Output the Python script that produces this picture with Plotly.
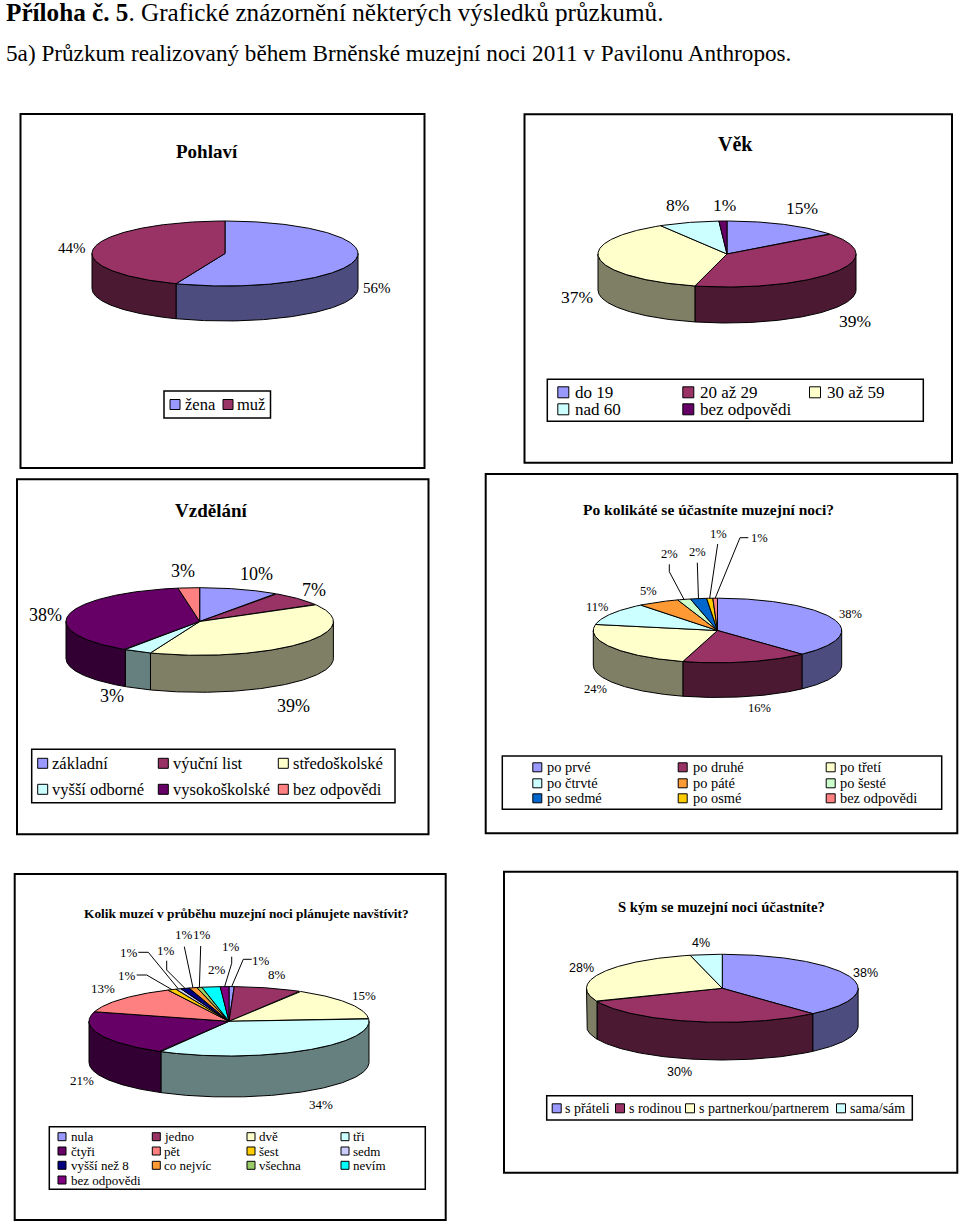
import numpy as np
import plotly.graph_objects as go

SERIF = "Liberation Serif"
SANS = "Liberation Sans"

# ---------- data ----------
POHLAVI_CATS = ["žena", "muž"]
POHLAVI_VALS = [56, 44]
VEK_CATS = ["do 19", "20 až 29", "30 až 59", "nad 60", "bez odpovědi"]
VEK_VALS = [14.6, 39.4, 37.4, 7.6, 1.0]
VZDELANI_CATS = ["základní", "výuční list", "středoškolské", "vyšší odborné", "vysokoškolské", "bez odpovědi"]
VZDELANI_VALS = [9.6, 7.0, 39.4, 3.4, 38.0, 2.6]
KOLIKATE_CATS = ["po prvé", "po druhé", "po třetí", "po čtrvté", "po páté", "po šesté", "po sedmé", "po osmé", "bez odpovědi"]
KOLIKATE_VALS = [38.1, 16.4, 23.5, 11.4, 5.4, 1.7, 2.1, 0.8, 0.6]
MUZEA_CATS = ["nula", "jedno", "dvě", "tři", "čtyři", "pět", "šest", "sedm", "vyšší než 8", "co nejvíc", "všechna", "nevím", "bez odpovědi"]
MUZEA_VALS = [0.6, 7.8, 15.4, 34.4, 21.4, 13.4, 1.0, 0.6, 1.0, 0.9, 0.6, 2.1, 1.0]
SKYM_CATS = ["s přáteli", "s rodinou", "s partnerkou/partnerem", "sama/sám"]
SKYM_VALS = [38.4, 30.3, 27.5, 3.8]

# ---------- styles ----------
C = dict(lav="#9999FF", plum="#993366", cream="#FFFFCC", ice="#CCFFFF", purple="#660066", salmon="#FF8080",
         orange="#FF9933", mint="#CCFFCC", blue="#0066CC", gold="#FFCC00", pale="#CCCCFF", navy="#000080",
         green="#99CC66", cyan="#00FFFF", violet="#800080")

PANELS = [
    dict(cats=POHLAVI_CATS, vals=POHLAVI_VALS,
         colors=[C["lav"], C["plum"]],
         box=(20.5, 114, 424.5, 468), pie=(225, 253.5, 133, 32.5, 35),
         title="Pohlaví", title_pos=(207, 151), title_size=19, title_font=SERIF,
         lab_size=15, lab_font=SERIF, lab_pos=[(377, 288), (72, 248)], leaders={},
         leg_box=(164, 391, 270.5, 418), leg_size=16.5, swatch=10,
         leg_items=[(175, 404.5, 185), (228, 404.5, 237)]),
    dict(cats=VEK_CATS, vals=VEK_VALS,
         colors=[C["lav"], C["plum"], C["cream"], C["ice"], C["purple"]],
         box=(524.5, 114.3, 952, 462.7), pie=(727, 254, 129, 33, 36),
         title="Věk", title_pos=(735, 144), title_size=20, title_font=SERIF,
         lab_size=17.5, lab_font=SERIF,
         lab_pos=[(802, 208), (855, 321), (577, 297), (677, 205), (724, 205)], leaders={},
         leg_box=(547.3, 379.3, 923.3, 421.3), leg_size=17, swatch=11,
         leg_items=[(563.3, 392.3, 575), (688.3, 392.3, 700), (815, 392.3, 826.7),
                    (563.3, 409.3, 575), (688.3, 409.3, 700)]),
    dict(cats=VZDELANI_CATS, vals=VZDELANI_VALS,
         colors=[C["lav"], C["plum"], C["cream"], C["ice"], C["purple"], C["salmon"]],
         box=(17, 479.3, 428.5, 834.3), pie=(199.7, 621.5, 133.7, 33.8, 37),
         title="Vzdělání", title_pos=(211, 510), title_size=19, title_font=SERIF,
         lab_size=18, lab_font=SERIF,
         lab_pos=[(256, 574), (314, 590), (293, 706), (112, 696), (45, 615), (183, 571)], leaders={},
         leg_box=(31.7, 749.3, 395, 802.7), leg_size=16.5, swatch=10,
         leg_items=[(42.7, 763.3, 52.3), (163.3, 763.3, 172.7), (283.3, 763.3, 293.3),
                    (42.7, 789.3, 52.3), (163.3, 789.3, 172.7), (283.3, 789.3, 293.3)]),
    dict(cats=KOLIKATE_CATS, vals=KOLIKATE_VALS,
         colors=[C["lav"], C["plum"], C["cream"], C["ice"], C["orange"], C["mint"], C["blue"], C["gold"], C["salmon"]],
         box=(485.7, 474, 957.3, 833.3), pie=(717.5, 630.5, 124.2, 32.3, 34.7),
         title="Po kolikáté se účastníte muzejní noci?", title_pos=(708, 509), title_size=15.5, title_font=SERIF,
         lab_size=12.5, lab_font=SERIF,
         lab_pos=[(850, 614), (759, 708), (595, 689), (597, 607), (648, 591), (669, 554), (697, 552), (718, 534), (759, 538)],
         leaders={5: [(669.3, 564.3), (669.3, 571.7)], 6: [(697.3, 562.7)], 7: [(717.7, 544)],
                  8: [(748.3, 537.7), (740, 537.7)]},
         leg_box=(502.3, 756, 941.7, 809.3), leg_size=14.4, swatch=9,
         leg_items=[(537.3, 767.3, 546.7), (682.7, 767.3, 693.3), (830.7, 767.3, 840),
                    (537.3, 783.3, 546.7), (682.7, 783.3, 693.3), (830.7, 783.3, 840),
                    (537.3, 798.3, 546.7), (682.7, 798.3, 693.3), (830.7, 798.3, 840)]),
    dict(cats=MUZEA_CATS, vals=MUZEA_VALS,
         colors=[C["lav"], C["plum"], C["cream"], C["ice"], C["purple"], C["salmon"], C["gold"], C["pale"],
                 C["navy"], C["orange"], C["green"], C["cyan"], C["violet"]],
         box=(14.7, 874, 445.7, 1220), pie=(229, 1021.3, 140, 34.7, 41),
         title="Kolik muzeí v průběhu muzejní noci plánujete navštívit?", title_pos=(246, 913), title_size=13.4, title_font=SERIF,
         lab_size=13, lab_font=SERIF,
         lab_pos=[(261, 960), (277, 974), (364, 995), (321, 1104), (82, 1080), (103, 988), (127, 975), (129, 952),
                  (166, 950), (184, 934), (202, 934), (217, 969), (231, 946)],
         leaders={0: [(251.7, 959.3), (243.3, 959.3)], 6: [(136.7, 975), (146.7, 975)],
                  7: [(138.3, 952.3), (148.3, 952.3)], 8: [(166.7, 960.7), (166.7, 970)],
                  9: [(184.3, 946.7)], 10: [(200.7, 946)], 12: [(231.7, 956.7), (231.7, 963.3)]},
         leg_box=(49.3, 1126.7, 425.3, 1189.3), leg_size=13, swatch=8,
         leg_items=[(x, y, t) for y in (1136.7, 1151, 1165.3) for x, t in
                    ((62, 71), (156.3, 164.3), (251, 259.3), (345, 353.3))] + [(62, 1180, 71)]),
    dict(cats=SKYM_CATS, vals=SKYM_VALS,
         colors=[C["lav"], C["plum"], C["cream"], C["ice"]],
         box=(504, 871.7, 957.3, 1172.7), pie=(722.3, 988.3, 135.8, 34, 37.7),
         title="S kým se muzejní noci účastníte?", title_pos=(721, 907), title_size=14.7, title_font=SERIF,
         lab_size=12.5, lab_font=SANS,
         lab_pos=[(865.7, 973), (679, 1072), (581, 968), (700.7, 943)], leaders={},
         leg_box=(546.7, 1095.7, 912.3, 1120), leg_size=14, swatch=9,
         leg_items=[(556.7, 1108.3, 565), (620, 1108.3, 629), (690, 1108.3, 699.3), (841, 1108.3, 850)]),
]

fig = go.Figure()
annotations = []
shapes = []


def darker(hex_color):
    r, g, b = (int(hex_color[i:i + 2], 16) for i in (1, 3, 5))
    return f"rgb({r // 2},{g // 2},{b // 2})"


def text(x, y, s, size, font=SERIF, bold=False, anchor="center"):
    annotations.append(dict(x=x, y=y, xref="x", yref="y", text=f"<b>{s}</b>" if bold else s,
                            showarrow=False, xanchor=anchor, yanchor="middle",
                            font=dict(family=font, size=size, color="black"),
                            borderpad=0, borderwidth=0))


def rect(box, width):
    shapes.append(dict(type="rect", xref="x", yref="y", x0=box[0], y0=box[1], x1=box[2], y1=box[3],
                       line=dict(color="black", width=width), fillcolor="rgba(0,0,0,0)"))


def poly(xs, ys, fill=None, name=""):
    kw = dict(fill="toself", fillcolor=fill) if fill else {}
    fig.add_trace(go.Scatter(x=xs, y=ys, mode="lines", line=dict(color="black", width=1), name=name,
                             showlegend=False, hoverinfo="name" if name else "skip", **kw))


for p in PANELS:
    rect(p["box"], 2)
    cx, cy, rx, ry, depth = p["pie"]
    vals = np.array(p["vals"], float)
    edges = np.concatenate([[0], np.cumsum(vals)]) / vals.sum() * 2 * np.pi

    def ell(t):
        return cx + rx * np.sin(t), cy - ry * np.cos(t)

    # walls (front half only)
    for i, col in enumerate(p["colors"]):
        a, b = max(edges[i], np.pi / 2), min(edges[i + 1], 3 * np.pi / 2)
        if b <= a:
            continue
        t = np.linspace(a, b, max(3, int((b - a) * 90)))
        x, y = ell(t)
        xs = np.concatenate([x, x[::-1], x[:1]])
        ys = np.concatenate([y, y[::-1] + depth, y[:1]])
        poly(xs, ys, darker(col), p["cats"][i])
    # top faces
    for i, col in enumerate(p["colors"]):
        a, b = edges[i], edges[i + 1]
        t = np.linspace(a, b, max(3, int((b - a) * 90)))
        x, y = ell(t)
        poly(np.concatenate([[cx], x, [cx]]), np.concatenate([[cy], y, [cy]]), col, p["cats"][i])
    # leader lines run from the label to the middle of the slice's rim
    for i, pts in p["leaders"].items():
        ex, ey = ell((edges[i] + edges[i + 1]) / 2)
        poly([q[0] for q in pts] + [ex], [q[1] for q in pts] + [ey])
    # labels
    for v, (lx, ly) in zip(p["vals"], p["lab_pos"]):
        text(lx, ly, f"{int(v + 0.5)}%", p["lab_size"], p["lab_font"])
    text(*p["title_pos"], p["title"], p["title_size"], p["title_font"], bold=True)
    # legend
    rect(p["leg_box"], 1.5)
    fig.add_trace(go.Scatter(x=[q[0] for q in p["leg_items"]], y=[q[1] for q in p["leg_items"]], mode="markers",
                             marker=dict(symbol="square", size=p["swatch"], color=p["colors"],
                                         line=dict(color="black", width=1)),
                             showlegend=False, hoverinfo="skip"))
    for cat, (_, ly, tx) in zip(p["cats"], p["leg_items"]):
        text(tx, ly, cat, p["leg_size"], SERIF, anchor="left")

# page heading
annotations.append(dict(x=4, y=12, xref="x", yref="y", xanchor="left", yanchor="middle", showarrow=False,
                        text="<b>Příloha č. 5</b>. Grafické znázornění některých výsledků průzkumů.",
                        font=dict(family=SERIF, size=25.2, color="black")))
annotations.append(dict(x=4, y=53, xref="x", yref="y", xanchor="left", yanchor="middle", showarrow=False,
                        text="5a) Průzkum realizovaný během Brněnské muzejní noci 2011 v Pavilonu Anthropos.",
                        font=dict(family=SERIF, size=23.2, color="black")))

fig.update_layout(width=960, height=1223, autosize=False, margin=dict(l=0, r=0, t=0, b=0),
                  paper_bgcolor="white", plot_bgcolor="white", showlegend=False,
                  annotations=annotations, shapes=shapes,
                  xaxis=dict(range=[0, 960], visible=False, fixedrange=True),
                  yaxis=dict(range=[1223, 0], visible=False, fixedrange=True))
fig.write_html("out.html", config=dict(displayModeBar=False),
               post_script="document.body.style.margin='0';document.body.style.overflow='hidden';")
